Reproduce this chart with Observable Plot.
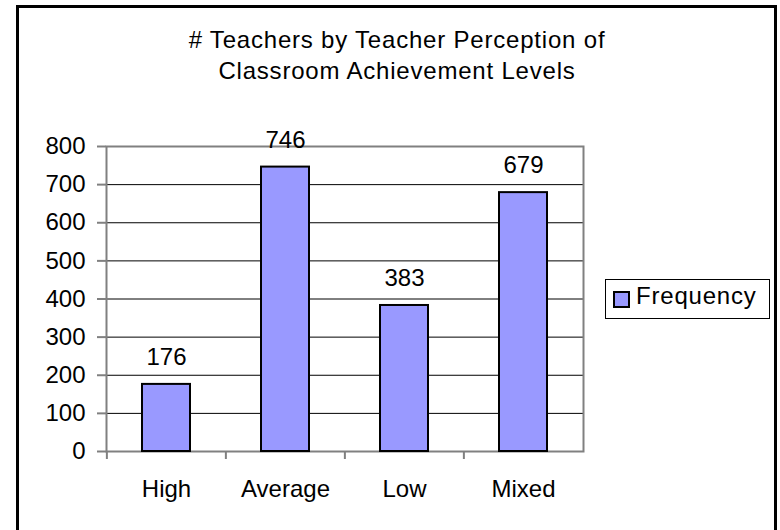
<!DOCTYPE html>
<html><head><meta charset="utf-8">
<script src="https://cdn.jsdelivr.net/npm/d3@7"></script>
<script src="https://cdn.jsdelivr.net/npm/@observablehq/plot@0.6"></script>
<style>
body{margin:0;background:#fff;overflow:hidden;font-family:"Liberation Sans",Arial,sans-serif;}
#wrap{position:relative;width:780px;height:530px;overflow:hidden;background:#fff;}
#border{position:absolute;left:16px;top:5px;width:761px;height:600px;border:3px solid #000;box-sizing:border-box;}
#title{position:absolute;left:0;width:794px;top:24px;text-align:center;font-size:24px;line-height:31px;letter-spacing:0.8px;color:#000;}
#chart{position:absolute;left:0;top:0;}
#legend{position:absolute;left:605px;top:279px;width:165px;height:40px;border:1px solid #000;box-sizing:border-box;background:#fff;}
#legend .sw{position:absolute;left:7px;top:11px;width:17px;height:17px;border:2px solid #000;box-sizing:border-box;background:#9999FF;}
#legend .lb{position:absolute;left:30px;top:2px;font-size:24px;line-height:27px;letter-spacing:0.8px;}
</style>
</head><body>
<div id="wrap">
  <div id="border"></div>
  <div id="chart"></div>
  <div id="title"></div>
  <div id="legend"><div class="sw"></div><div class="lb"></div></div>
</div>
<script>
const titleLines = ["# Teachers by Teacher Perception of", "Classroom Achievement Levels"];
const categories = ["High", "Average", "Low", "Mixed"];
const frequency = [176, 746, 383, 679];
const seriesName = "Frequency";
const yTicks = [0, 100, 200, 300, 400, 500, 600, 700, 800];

const data = categories.map((c, i) => ({category: c, value: frequency[i]}));

document.getElementById("title").innerHTML = titleLines.join("<br>");
document.querySelector("#legend .lb").textContent = seriesName;

const W = 780, H = 530, ML = 106, MR = 197, MT = 146, MB = 79;
const step = (W - ML - MR) / categories.length;

const chart = Plot.plot({
  width: W, height: H,
  marginLeft: ML, marginRight: MR, marginTop: MT, marginBottom: MB,
  style: {fontFamily: "Liberation Sans, Arial, sans-serif", fontSize: "24px", background: "transparent", color: "#000"},
  x: {domain: categories, paddingInner: 0.6, paddingOuter: 0.3, label: null},
  y: {domain: [0, 800], label: null},
  marks: [
    Plot.ruleY(yTicks.filter(v => v > 0 && v < 800), {stroke: "#000", strokeWidth: 1}),
    Plot.frame({stroke: "#808080", strokeWidth: 2}),
    Plot.ruleX(categories, {x: d => d, y1: 0, y2: 0, insetBottom: -8, dx: -step / 2, stroke: "#808080", strokeWidth: 2}),
    Plot.axisY({ticks: yTicks, tickSize: 9, tickPadding: 12, stroke: "#808080", strokeWidth: 2, fill: "#000", fontSize: 24, letterSpacing: 0.8, label: null}),
    Plot.axisX({tickSize: 0, tickPadding: 28, fill: "#000", fontSize: 24, label: null}),
    Plot.barY(data, {x: "category", y: "value", fill: "#9999FF", stroke: "#000", strokeWidth: 2}),
    Plot.text(data, {x: "category", y: "value", text: d => String(d.value), dy: -27, fontSize: 24, lineAnchor: "middle", fill: "#000"})
  ]
});
document.getElementById("chart").appendChild(chart);
</script>
</body></html>
